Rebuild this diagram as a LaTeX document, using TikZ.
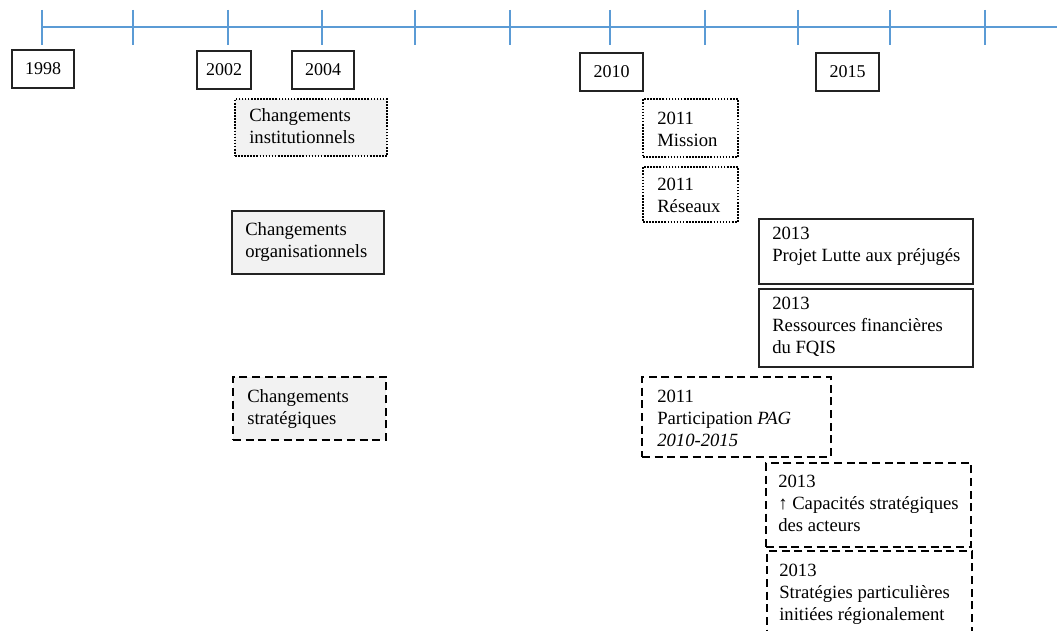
\documentclass[tikz,border=0pt]{standalone}
\usepackage{fontspec}
\setmainfont{Liberation Serif}
\definecolor{axisblue}{RGB}{91,155,213}
\definecolor{boxgray}{RGB}{242,242,242}
\definecolor{edge}{RGB}{35,35,35}
\newcommand\evt[9]{%
  \node[#2, minimum width={(#5-#3)*0.75pt}, minimum height={(#6-#4)*0.75pt}] (#1) at (#3,#4) {};
  \node[evtext] (#1-t) at (#7,#8) {#9};}
\begin{document}
\begin{tikzpicture}[x=0.75pt,y=-0.75pt,
  axisline/.style={draw=axisblue, line width=1.1pt},
  basebox/.style={anchor=north west, inner sep=0pt, outer sep=0pt, draw=edge},
  yearbox/.style={basebox, line width=0.8pt, font=\fontsize{13.5}{16.5}\selectfont},
  solidbox/.style={basebox, line width=0.8pt},
  dotbox/.style={basebox, draw=black, line width=1.3pt, dash pattern=on 1.2pt off 1.1pt},
  dashbox/.style={basebox, draw=black, line width=1.5pt, dash pattern=on 6pt off 3.5pt},
  shaded/.style={fill=boxgray},
  evtext/.style={anchor=north west, inner sep=0pt, align=left, font=\fontsize{14}{16.5}\selectfont}]
\useasboundingbox (0,0) rectangle (1057,631);
\clip (0,0) rectangle (1057,631);

% time axis with its ticks
\coordinate (axstart) at (42,27);
\coordinate (axend) at (1057,27);
\draw[axisline] (axstart) -- (axend);
\foreach \tx [count=\i] in {42,133,228,322,415,510,610,705,798,890,985} {
  \coordinate (tk\i a) at (\tx,10);
  \coordinate (tk\i b) at (\tx,45);
  \draw[axisline] (tk\i a) -- (tk\i b);
}

% year labels
\node[yearbox, minimum width=62*0.75pt, minimum height=38*0.75pt] (y1998) at (12,50) {1998};
\node[yearbox, minimum width=54*0.75pt, minimum height=38*0.75pt] (y2002) at (197,51) {2002};
\node[yearbox, minimum width=62*0.75pt, minimum height=38*0.75pt] (y2004) at (292,51) {2004};
\node[yearbox, minimum width=63*0.75pt, minimum height=38*0.75pt] (y2010) at (580,53) {2010};
\node[yearbox, minimum width=63*0.75pt, minimum height=38*0.75pt] (y2015) at (816,53) {2015};

% kinds of change
\evt{inst}{dotbox,shaded}{235}{99}{387}{156}{249}{108}{Changements\\institutionnels}
\evt{orga}{solidbox,shaded}{232}{211}{384}{274}{245}{222}{Changements\\organisationnels}
\evt{strat}{dashbox,shaded}{233}{377}{386}{440}{247}{389}{Changements\\stratégiques}

% events
\evt{mission}{dotbox}{643}{99}{738}{157}{657}{112}{2011\\Mission}
\evt{reseaux}{dotbox}{643}{167}{738}{222}{657}{178}{2011\\Réseaux}
\evt{projet}{solidbox}{759}{219}{973}{284}{772}{227}{2013\\Projet Lutte aux préjugés}
\evt{fqis}{solidbox}{759}{289}{973}{367}{772}{297}{2013\\Ressources financières\\du FQIS}
\evt{pag}{dashbox}{642}{377}{831}{457}{657}{390}{2011\\Participation \textit{PAG}\\\textit{2010-2015}}
\evt{capac}{dashbox}{766}{463}{971}{547}{778}{475}{2013\\↑ Capacités stratégiques\\des acteurs}
\evt{region}{dashbox}{767}{551}{972}{645}{779}{564}{2013\\Stratégies particulières\\initiées régionalement}
\end{tikzpicture}
\end{document}
